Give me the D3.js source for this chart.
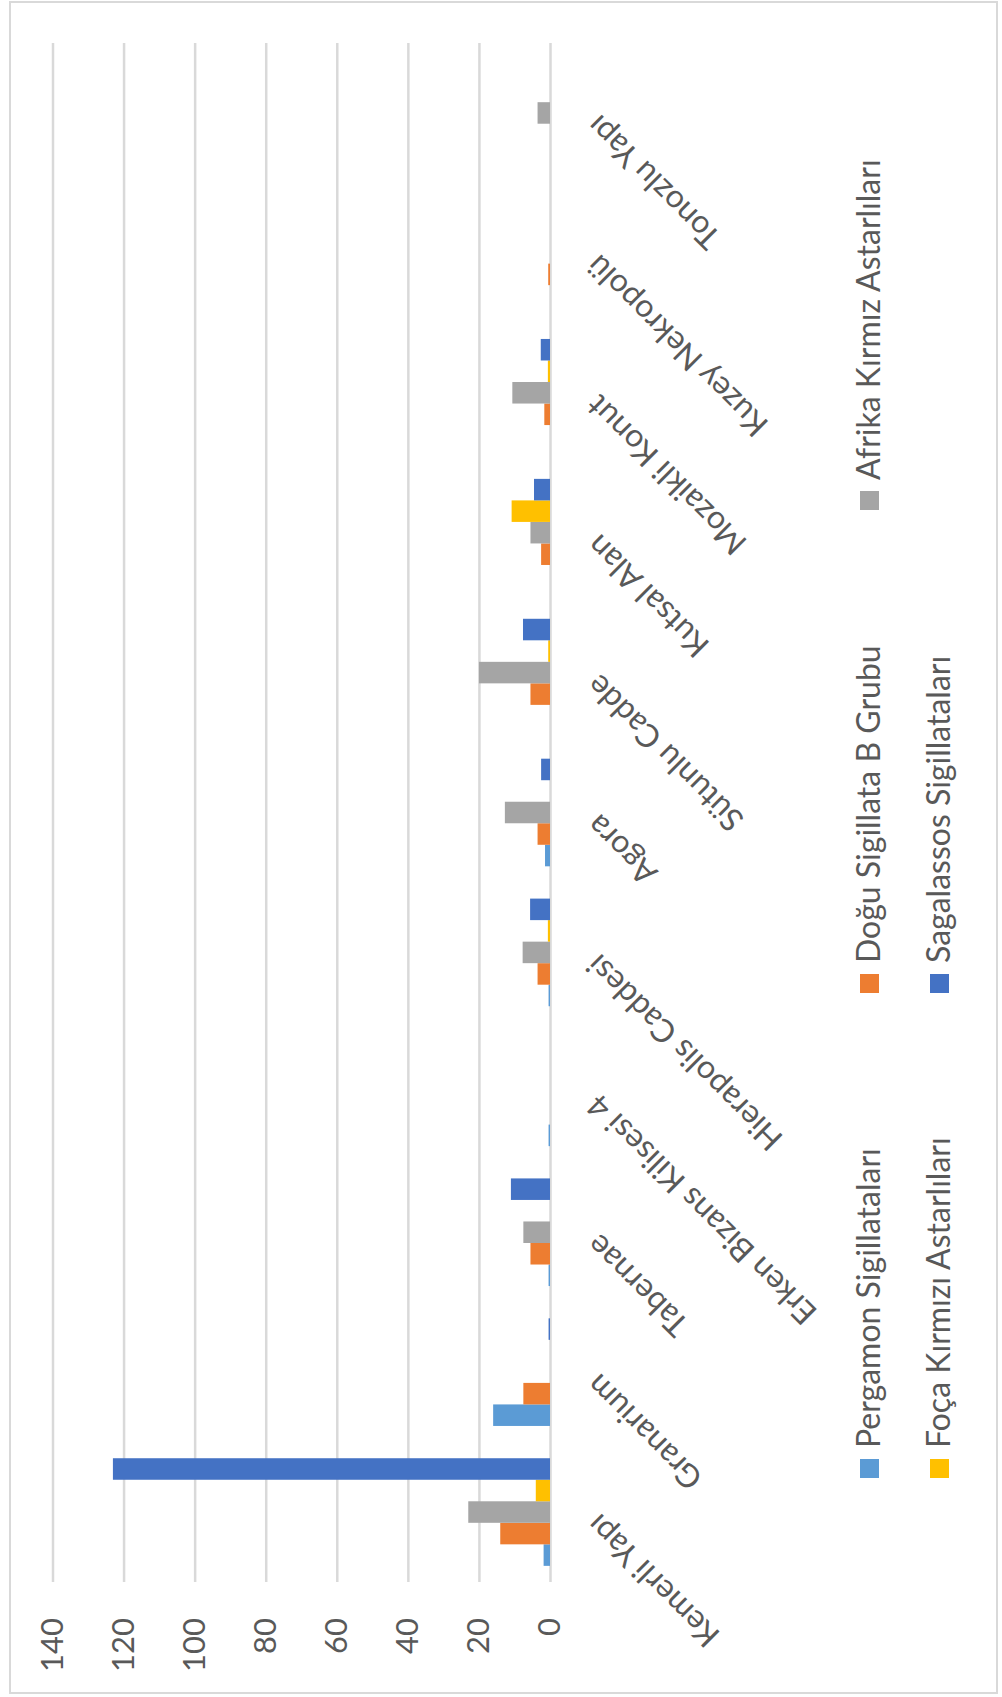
<!DOCTYPE html>
<html>
<head>
<meta charset="utf-8">
<script src="https://cdn.jsdelivr.net/npm/d3@7"></script>
<style>
body{margin:0;background:#fff;}
text{font-family:Lato,"Open Sans",sans-serif;fill:#595959;}
</style>
</head>
<body>
<script>
// values
var categories = ["Kemerli Yapı","Granarium","Tabernae","Erken Bizans Kilisesi 4","Hierapolis Caddesi","Agora","Sütunlu Cadde","Kutsal Alan","Mozaikli Konut","Kuzey Nekropolü","Tonozlu Yapı"];
var seriesNames = ["Pergamon Sigillataları","Doğu Sigillata B Grubu","Afrika Kırmız Astarlıları","Foça Kırmızı Astarlıları","Sagalassos Sigillataları"];
var seriesColors = ["#5B9BD5","#ED7D31","#A5A5A5","#FFC000","#4472C4"];
var pergamon   = [1.8, 16, 0.4, 0.4, 0.4, 1.4, 0, 0, 0, 0, 0];
var dogu       = [14, 7.5, 5.5, 0, 3.5, 3.5, 5.5, 2.5, 1.6, 0.5, 0];
var afrika     = [23, 0, 7.5, 0, 7.7, 12.7, 20, 5.5, 10.6, 0, 3.5];
var foca       = [4, 0, 0, 0, 0.6, 0, 0.5, 10.8, 0.6, 0, 0];
var sagalassos = [123, 0.4, 11, 0, 5.6, 2.5, 7.6, 4.5, 2.6, 0, 0];
var yTicks = [0,20,40,60,80,100,120,140];

var series = [pergamon, dogu, afrika, foca, sagalassos];

// page is portrait, chart is drawn landscape then turned a quarter left
var pageW = 1002, pageH = 1697;
var plotLeft = 115, plotRight = 1654, plotTop = 52.5, plotBottom = 550;

var svg = d3.select("body").append("svg")
    .attr("width", pageW)
    .attr("height", pageH);

svg.append("rect")
   .attr("x",10).attr("y",2)
   .attr("width",987).attr("height",1691)
   .attr("fill","#fff")
   .attr("stroke","#D9D9D9")
   .attr("stroke-width",2);

var g = svg.append("g")
    .attr("transform","translate(0,"+pageH+") rotate(-90)");

var x0 = d3.scaleBand()
    .domain(categories)
    .range([plotLeft, plotRight])
    .paddingInner(1.5/6.5)
    .paddingOuter(0.75/6.5);

var x1 = d3.scaleBand()
    .domain(d3.range(series.length))
    .range([0, x0.bandwidth()]);

var y = d3.scaleLinear()
    .domain([0,140])
    .range([plotBottom, plotTop]);

// value axis with gridlines
var yAxis = g.append("g")
    .attr("transform","translate("+plotLeft+",0)")
    .call(d3.axisLeft(y).tickValues(yTicks).tickSize(-(plotRight-plotLeft)).tickPadding(36));
yAxis.select(".domain").remove();
yAxis.selectAll("line").attr("stroke","#D9D9D9").attr("stroke-width",2.5);
yAxis.selectAll("text")
    .style("font-size","31px")
    .attr("fill","#595959");

// bars
series.forEach(function(vals, s){
    g.append("g").selectAll("rect")
     .data(vals)
     .enter().append("rect")
     .attr("x", function(d,i){ return x0(categories[i]) + x1(s); })
     .attr("y", function(d){ return y(d); })
     .attr("width", x1.bandwidth())
     .attr("height", function(d){ return y(0) - y(d); })
     .attr("fill", seriesColors[s]);
});

// category labels
var xAxis = g.append("g")
    .attr("transform","translate(0,"+plotBottom+")")
    .call(d3.axisBottom(x0).tickSize(0).tickPadding(0));
xAxis.select(".domain").remove();
xAxis.selectAll("text")
    .style("font-size","32px")
    .attr("fill","#595959")
    .attr("text-anchor","end")
    .attr("dy",null)
    .attr("y",null)
    .attr("transform","translate(0,50) rotate(-45)");

// legend
var legX = [219, 704, 1187], legY = [860, 930];
var leg = g.append("g");
seriesNames.forEach(function(name, i){
    var lx = legX[i % 3], ly = legY[Math.floor(i / 3)];
    leg.append("rect")
       .attr("x", lx).attr("y", ly)
       .attr("width", 19).attr("height", 19)
       .attr("fill", seriesColors[i]);
    leg.append("text")
       .attr("x", lx + 30)
       .attr("y", ly + 20)
       .style("font-size","32px")
       .text(name);
});
</script>
</body>
</html>
